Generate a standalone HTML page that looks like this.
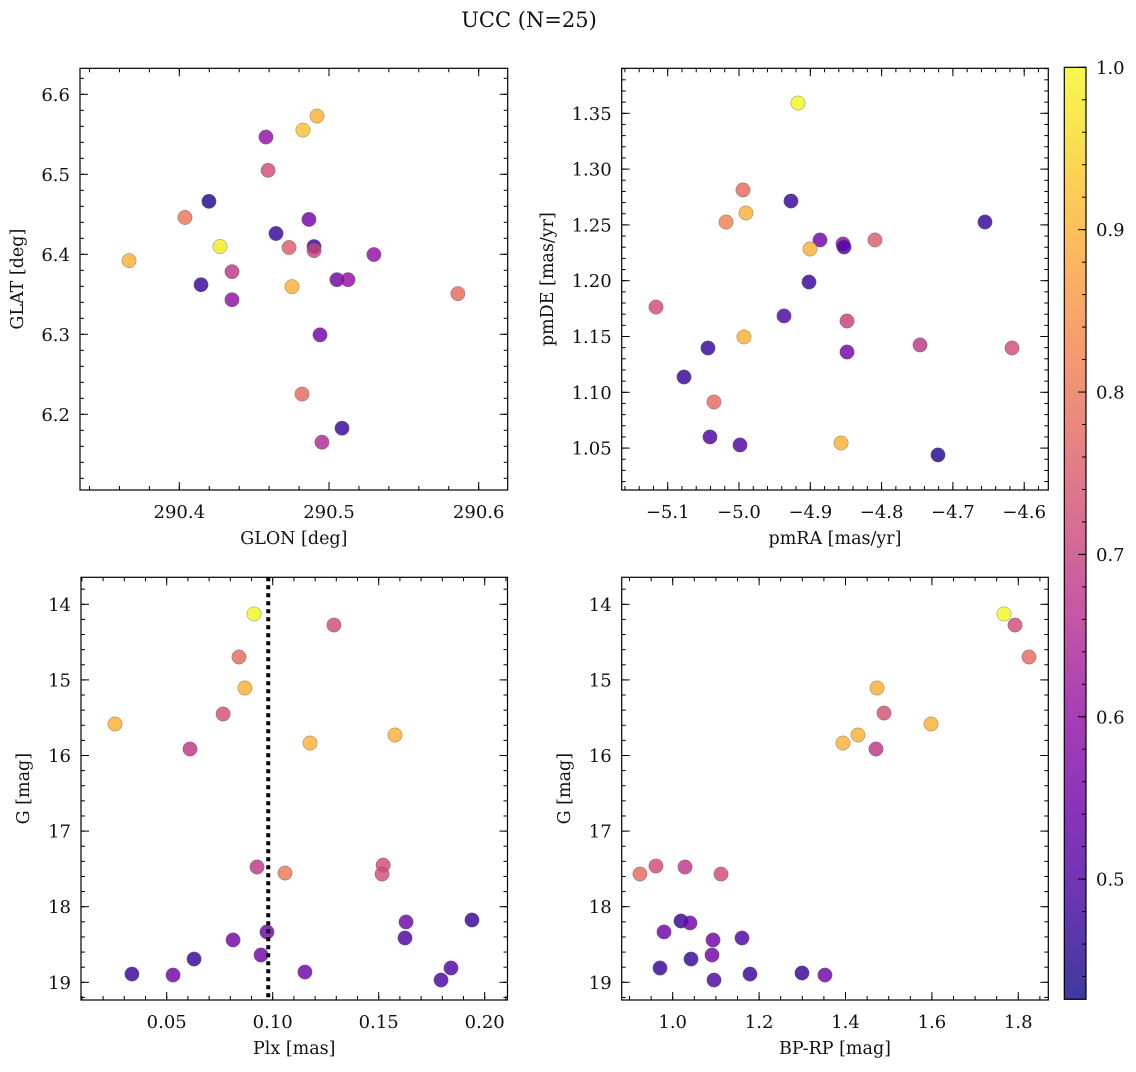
<!DOCTYPE html>
<html><head><meta charset="utf-8"><style>
html,body{margin:0;padding:0;background:#fff;}
svg text{font-family:"DejaVu Serif","Liberation Serif",serif;fill:#111;}
</style></head><body>
<svg id="fig" width="1136" height="1067" xmlns="http://www.w3.org/2000/svg">
<defs>
<linearGradient id="plasma" x1="0" y1="1" x2="0" y2="0">
<stop offset="0" stop-color="#0d0887"/><stop offset="0.1" stop-color="#41049d"/><stop offset="0.2" stop-color="#6a00a8"/><stop offset="0.3" stop-color="#8f0da4"/><stop offset="0.4" stop-color="#b12a90"/><stop offset="0.5" stop-color="#cc4778"/><stop offset="0.6" stop-color="#e16462"/><stop offset="0.7" stop-color="#f2844b"/><stop offset="0.8" stop-color="#fca636"/><stop offset="0.9" stop-color="#fcce25"/><stop offset="1" stop-color="#f0f921"/>
</linearGradient>
</defs>
<text x="529" y="27" font-size="21" text-anchor="middle">UCC (N=25)</text>
</svg>
<script>
// ---- data ----
const tlGlon=[290.4579,290.4826,290.4920,290.4593,290.4198,290.4038,290.4646,290.4866,290.4900,290.4900,290.4733,290.4272,290.3664,290.4352,290.4145,290.4352,290.4753,290.5053,290.5127,290.5300,290.5861,290.4940,290.4820,290.5087,290.4953];
const tlGlat=[6.5466,6.5553,6.5728,6.5050,6.4662,6.4461,6.4260,6.4436,6.4097,6.4047,6.4085,6.4097,6.3921,6.3783,6.3620,6.3432,6.3595,6.3683,6.3683,6.3997,6.3508,6.2993,6.2253,6.1826,6.1651];
const tlProb=[0.6,0.92,0.9,0.72,0.45,0.8,0.47,0.55,0.47,0.7,0.75,0.98,0.9,0.68,0.47,0.6,0.9,0.55,0.6,0.6,0.78,0.55,0.78,0.47,0.65];
const trPmra=[-4.9173,-4.9944,-4.9271,-4.9902,-5.0182,-4.6550,-4.8864,-4.9004,-4.8541,-4.8527,-4.8093,-4.9018,-5.1164,-4.9369,-4.8485,-4.7461,-4.6171,-5.0435,-5.0771,-4.9930,-4.8485,-5.0351,-5.0407,-4.9986,-4.8569,-4.7209];
const trPmde=[1.3592,1.2813,1.2714,1.2607,1.2526,1.2526,1.2365,1.2284,1.2329,1.2302,1.2365,1.1988,1.1764,1.1684,1.1639,1.1424,1.1397,1.1397,1.1137,1.1496,1.1361,1.0913,1.0600,1.0528,1.0546,1.0439];
const trProb=[1.0,0.78,0.47,0.9,0.82,0.47,0.55,0.9,0.6,0.5,0.75,0.47,0.72,0.5,0.7,0.68,0.72,0.47,0.47,0.9,0.55,0.78,0.5,0.5,0.9,0.45];
const blPlx=[0.0912,0.1289,0.0841,0.0869,0.0766,0.0256,0.0610,0.1176,0.1577,0.1521,0.1516,0.1058,0.0926,0.0973,0.1629,0.1940,0.0813,0.1624,0.0945,0.0629,0.0336,0.0530,0.1152,0.1841,0.1794];
const blG=[14.128,14.274,14.697,15.107,15.451,15.583,15.914,15.835,15.729,17.449,17.568,17.555,17.475,18.334,18.202,18.176,18.440,18.414,18.639,18.692,18.891,18.904,18.864,18.811,18.970];
const blProb=[1.0,0.72,0.78,0.9,0.73,0.9,0.68,0.9,0.9,0.72,0.72,0.8,0.68,0.55,0.55,0.47,0.55,0.5,0.55,0.47,0.47,0.55,0.55,0.5,0.5];
const plxLine=[0.0979];
const brBprp=[1.7669,1.7924,1.8248,1.4729,1.4891,1.5979,1.4706,1.3942,1.4289,0.9613,0.9243,1.1118,1.0285,1.0192,1.0400,0.9799,1.1604,1.0933,1.0910,1.0424,0.9706,1.1789,1.2993,1.3525,1.0956];
const brG=[14.128,14.274,14.697,15.107,15.438,15.583,15.914,15.835,15.729,17.462,17.568,17.568,17.475,18.189,18.215,18.334,18.414,18.440,18.639,18.692,18.811,18.891,18.877,18.904,18.970];
const brProb=[1.0,0.72,0.78,0.9,0.73,0.9,0.68,0.9,0.9,0.72,0.78,0.72,0.68,0.47,0.55,0.55,0.5,0.55,0.55,0.47,0.47,0.47,0.47,0.55,0.5];
const tlXTicks=[290.4,290.5,290.6];
const tlYTicks=[6.2,6.3,6.4,6.5,6.6];
const trXTicks=[-5.1,-5.0,-4.9,-4.8,-4.7,-4.6];
const trYTicks=[1.05,1.10,1.15,1.20,1.25,1.30,1.35];
const blXTicks=[0.05,0.10,0.15,0.20];
const gTicks=[14,15,16,17,18,19];
const brXTicks=[1.0,1.2,1.4,1.6,1.8];
const cbTicks=[0.5,0.6,0.7,0.8,0.9,1.0];
const cmin=0.426, cmax=1.0;

const NS="http://www.w3.org/2000/svg";
const svg=document.getElementById('fig');
function mk(tag,attrs,parent){const e=document.createElementNS(NS,tag);for(const k in attrs)e.setAttribute(k,attrs[k]);(parent||svg).appendChild(e);return e;}
const stops=[[13,8,135],[65,4,157],[106,0,168],[143,13,164],[177,42,144],[204,71,120],[225,100,98],[242,132,75],[252,166,54],[252,206,37],[240,249,33]];
function plasma(v){let t=(v-cmin)/(cmax-cmin);t=Math.max(0,Math.min(1,t))*10;const i=Math.min(9,Math.floor(t)),f=t-i;const a=stops[i],b=stops[i+1];return 'rgb('+[0,1,2].map(k=>Math.round(a[k]+(b[k]-a[k])*f)).join(',')+')';}
function fmt(v,d){return (v<0?'\u2212':'')+Math.abs(v).toFixed(d);}

function panel(o){
  const g=mk('g',{});
  
  
  const sx=v=>o.L+(v-o.x0)/(o.x1-o.x0)*(o.R-o.L);
  const sy=v=>o.T+(v-o.y0)/(o.y1-o.y0)*(o.B-o.T);
  const tg=mk('g',{stroke:'#000','stroke-width':1},g);
  function ticks(lo,hi,step,len,isX){
    const s=Math.ceil(lo/step-1e-6), e=Math.floor(hi/step+1e-6);
    for(let i=s;i<=e;i++){const v=i*step;
      if(isX){const x=sx(v);mk('line',{x1:x,x2:x,y1:o.B,y2:o.B-len},tg);mk('line',{x1:x,x2:x,y1:o.T,y2:o.T+len},tg);}
      else{const y=sy(v);mk('line',{x1:o.L,x2:o.L+len,y1:y,y2:y},tg);mk('line',{x1:o.R,x2:o.R-len,y1:y,y2:y},tg);}
    }}
  ticks(Math.min(o.x0,o.x1),Math.max(o.x0,o.x1),o.xminor,4,true);
  ticks(Math.min(o.y0,o.y1),Math.max(o.y0,o.y1),o.yminor,4,false);
  o.xt.forEach(v=>{const x=sx(v);mk('line',{x1:x,x2:x,y1:o.B,y2:o.B-8},tg);mk('line',{x1:x,x2:x,y1:o.T,y2:o.T+8},tg);
    const t=mk('text',{x:x,y:o.B+28,'font-size':18,'text-anchor':'middle'},g);t.textContent=fmt(v,o.xd);
    
    });
  o.yt.forEach(v=>{const y=sy(v);mk('line',{x1:o.L,x2:o.L+8,y1:y,y2:y},tg);mk('line',{x1:o.R,x2:o.R-8,y1:y,y2:y},tg);
    const t=mk('text',{x:o.L-10,y:y+6.5,'font-size':18,'text-anchor':'end'},g);t.textContent=fmt(v,o.yd);
    
    });
  const pg=mk('g',{},g);
  
  
  o.xs.forEach((xv,i)=>{const c=mk('circle',{cx:sx(xv),cy:sy(o.ys[i]),r:7.2,fill:plasma(o.cs[i]),'fill-opacity':0.82,stroke:'#666','stroke-width':0.5,'stroke-opacity':0.8},pg);
    
    });
  if(o.vline){o.vline.forEach(v=>{const l=mk('line',{x1:sx(v),x2:sx(v),y1:o.T,y2:o.B,stroke:'#000','stroke-width':4,'stroke-dasharray':'4 4'},g);
    
    });}
  const fr=mk('rect',{x:o.L,y:o.T,width:o.R-o.L,height:o.B-o.T,fill:'none',stroke:'#000','stroke-width':1.2},g);
  
  
  const xl=mk('text',{x:(o.L+o.R)/2,y:o.B+54,'font-size':17.5,'text-anchor':'middle'},g);xl.textContent=o.xlabel;
  
  
  const yx=o.ylx,yy=(o.T+o.B)/2;
  const yl=mk('text',{x:yx,y:yy,'font-size':17.5,'text-anchor':'middle',transform:'rotate(-90 '+yx+' '+yy+')'},g);yl.textContent=o.ylabel;
  
  
}
panel({name:'glon-glat-panel',L:80,R:507.7,T:68.3,B:490,x0:290.4-99.3/1497,x1:290.4+328.4/1497,y0:6.6+26/800,y1:6.6-395.7/800,
  xt:tlXTicks,yt:tlYTicks,xd:1,yd:1,xminor:0.02,yminor:0.02,xs:tlGlon,ys:tlGlat,cs:tlProb,xlabel:'GLON [deg]',ylabel:'GLAT [deg]',ylx:23});
panel({name:'proper-motion-panel',L:621.7,R:1048.3,T:68.3,B:490,x0:-5.1-46/713,x1:-5.1+380.6/713,y0:1.35+45/1116,y1:1.35-376.7/1116,
  xt:trXTicks,yt:trYTicks,xd:1,yd:2,xminor:0.02,yminor:0.01,xs:trPmra,ys:trPmde,cs:trProb,xlabel:'pmRA [mas/yr]',ylabel:'pmDE [mas/yr]',ylx:553});
panel({name:'parallax-magnitude-panel',L:81,R:507.5,T:577.3,B:1000,x0:0.05-85.7/2120,x1:0.05+340.8/2120,y0:14-27/75.6,y1:14+395.7/75.6,
  xt:blXTicks,yt:gTicks,xd:2,yd:0,xminor:0.01,yminor:0.2,xs:blPlx,ys:blG,cs:blProb,vline:plxLine,xlabel:'Plx [mas]',ylabel:'G [mag]',ylx:29});
panel({name:'color-magnitude-panel',L:621.7,R:1048.3,T:577.3,B:1000,x0:1.0-51/432,x1:1.0+375.6/432,y0:14-27/75.6,y1:14+395.7/75.6,
  xt:brXTicks,yt:gTicks,xd:1,yd:0,xminor:0.05,yminor:0.2,xs:brBprp,ys:brG,cs:brProb,xlabel:'BP-RP [mag]',ylabel:'G [mag]',ylx:570});
(function(){
  const L=1064.3,R=1086,T=67.3,B=999.3;
  const cg=mk('g',{});
  
  
  mk('rect',{x:L,y:T,width:R-L,height:B-T,fill:'url(#plasma)','fill-opacity':0.8},cg);
  const sy=v=>T+(cmax-v)/(cmax-cmin)*(B-T);
  for(let i=Math.ceil(cmin/0.02);i<=50;i++){const y=sy(i*0.02);mk('line',{x1:R,x2:R-4,y1:y,y2:y,stroke:'#000'},cg);}
  cbTicks.forEach(v=>{const y=sy(v);mk('line',{x1:R,x2:R-8,y1:y,y2:y,stroke:'#000'},cg);
    const t=mk('text',{x:1096,y:y+6.5,'font-size':18},cg);t.textContent=v.toFixed(1);
    
    });
  mk('rect',{x:L,y:T,width:R-L,height:B-T,fill:'none',stroke:'#000','stroke-width':1.2},cg);
})();
</script>
</body></html>
